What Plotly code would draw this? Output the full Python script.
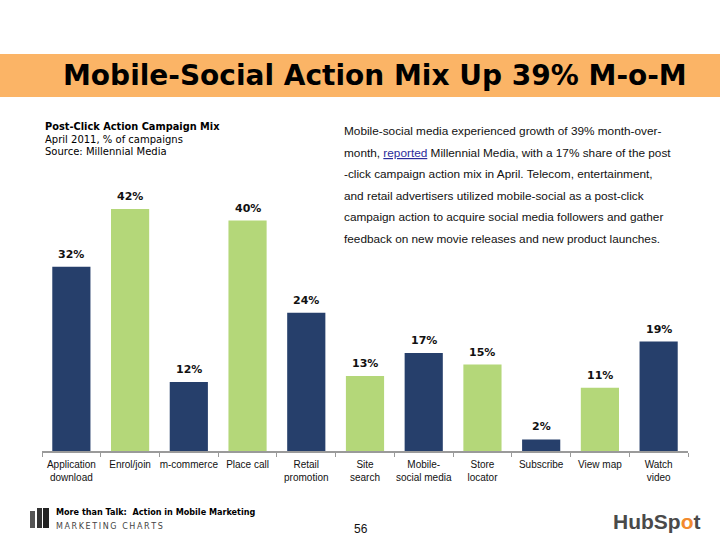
import plotly.graph_objects as go

categories = ["Application<br>download", "Enrol/join", "m-commerce", "Place call",
              "Retail<br>promotion", "Site<br>search", "Mobile-<br>social media",
              "Store<br>locator", "Subscribe", "View map", "Watch<br>video"]
values = [32, 42, 12, 40, 24, 13, 17, 15, 2, 11, 19]
value_labels = ["32%", "42%", "12%", "40%", "24%", "13%", "17%", "15%", "2%", "11%", "19%"]

NAVY = "#263F6B"
GREEN = "#B4D779"
bar_colors = [NAVY, GREEN, NAVY, GREEN, NAVY, GREEN, NAVY, GREEN, NAVY, GREEN, NAVY]

title_text = "Mobile-Social Action Mix Up 39% M-o-M"
chart_title = "Post-Click Action Campaign Mix"
chart_sub = ["April 2011, % of campaigns", "Source: Millennial Media"]
para_lines = [
    "Mobile-social media experienced growth of 39% month-over-",
    "month, <span style='color:#2B2B9A'><u>reported</u></span> Millennial Media, with a 17% share of the post",
    "-click campaign action mix in April. Telecom, entertainment,",
    "and retail advertisers utilized mobile-social as a post-click",
    "campaign action to acquire social media followers and gather",
    "feedback on new movie releases and new product launches.",
]
footer_bold = "More than Talk:  Action in Mobile Marketing"
footer_brand = "\u2009".join("MARKETING") + "\u2009\u2009 " + "\u2009".join("CHARTS")
page_number = "56"

W, H = 720, 540
L, R, T, B = 42, 688, 160, 451
PX_PER_UNIT = 5.76


def px(x):
    return (x - L) / (R - L)


def py(y):
    return (B - y) / (B - T)


fig = go.Figure()
fig.add_trace(go.Bar(
    x=categories, y=values, marker=dict(color=bar_colors, line=dict(width=0)),
    width=0.65, hoverinfo="skip",
))

annotations = []
for c, v, t in zip(categories, values, value_labels):
    annotations.append(dict(x=c, y=v, xref="x", yref="y", text="<b>" + t + "</b>",
                            showarrow=False, yanchor="bottom", yshift=4,
                            font=dict(family="DejaVu Sans", size=11, color="#111111")))

# title
annotations.append(dict(x=px(375), y=py(76), xref="paper", yref="paper",
                        text="<b>" + title_text + "</b>", showarrow=False,
                        xanchor="center", yanchor="middle",
                        font=dict(family="DejaVu Sans", size=28, color="#000000")))
# chart title block
annotations.append(dict(x=px(43), y=py(126.5), xref="paper", yref="paper",
                        text="<b>" + chart_title + "</b>", showarrow=False,
                        xanchor="left", yanchor="middle",
                        font=dict(family="DejaVu Sans", size=9.8, color="#000000")))
for i, s in enumerate(chart_sub):
    annotations.append(dict(x=px(43), y=py(139 + 12 * i), xref="paper", yref="paper",
                            text=s, showarrow=False, xanchor="left", yanchor="middle",
                            font=dict(family="DejaVu Sans", size=10, color="#000000")))
# paragraph
for i, s in enumerate(para_lines):
    annotations.append(dict(x=px(342), y=py(131 + 21.6 * i), xref="paper", yref="paper",
                            text=s, showarrow=False, xanchor="left", yanchor="middle",
                            font=dict(family="Liberation Sans", size=11.8, color="#111111")))
# footer
annotations.append(dict(x=px(54), y=py(512), xref="paper", yref="paper",
                        text="<b>" + footer_bold + "</b>", showarrow=False,
                        xanchor="left", yanchor="middle",
                        font=dict(family="DejaVu Sans Condensed", size=9, color="#000000")))
annotations.append(dict(x=px(54), y=py(526), xref="paper", yref="paper",
                        text=footer_brand, showarrow=False,
                        xanchor="left", yanchor="middle",
                        font=dict(family="DejaVu Sans", size=8, color="#444444")))
annotations.append(dict(x=px(361), y=py(529), xref="paper", yref="paper",
                        text=page_number, showarrow=False, xanchor="center", yanchor="middle",
                        font=dict(family="Liberation Sans", size=12, color="#111111")))
annotations.append(dict(x=px(656), y=py(521), xref="paper", yref="paper",
                        text="<b>HubSp<span style='color:#F28A2E'>o</span>t</b>", showarrow=False,
                        xanchor="center", yanchor="middle",
                        font=dict(family="Liberation Sans", size=21, color="#4A4A4A")))

shapes = [
    dict(type="rect", xref="paper", yref="paper", x0=px(0), x1=px(720), y0=py(54), y1=py(97),
         fillcolor="#FBB466", line=dict(width=0), layer="below"),
    dict(type="rect", xref="paper", yref="paper", x0=px(30), x1=px(35), y0=py(511), y1=py(528),
         fillcolor="#555555", line=dict(width=0)),
    dict(type="rect", xref="paper", yref="paper", x0=px(37), x1=px(42), y0=py(508), y1=py(528),
         fillcolor="#333333", line=dict(width=0)),
    dict(type="rect", xref="paper", yref="paper", x0=px(43), x1=px(49), y0=py(508), y1=py(528),
         fillcolor="#222222", line=dict(width=0)),
]

fig.update_layout(
    width=W, height=H,
    margin=dict(l=L, r=W - R, t=T, b=H - B, pad=0),
    paper_bgcolor="white", plot_bgcolor="white",
    showlegend=False,
    annotations=annotations, shapes=shapes,
    xaxis=dict(type="category", showline=True, linecolor="#9A9A9A", linewidth=1.5,
               ticks="outside", tickson="boundaries", ticklen=4, tickcolor="#9A9A9A",
               tickangle=0, automargin=False, ticklabelstandoff=3,
               tickfont=dict(family="Liberation Sans", size=10, color="#111111"),
               showgrid=False, zeroline=False, fixedrange=True),
    yaxis=dict(visible=False, range=[0, (B - T) / PX_PER_UNIT], showgrid=False,
               zeroline=False, fixedrange=True),
)

fig.write_html("out.html", config={"displayModeBar": False},
               post_script="document.body.style.margin='0';")
